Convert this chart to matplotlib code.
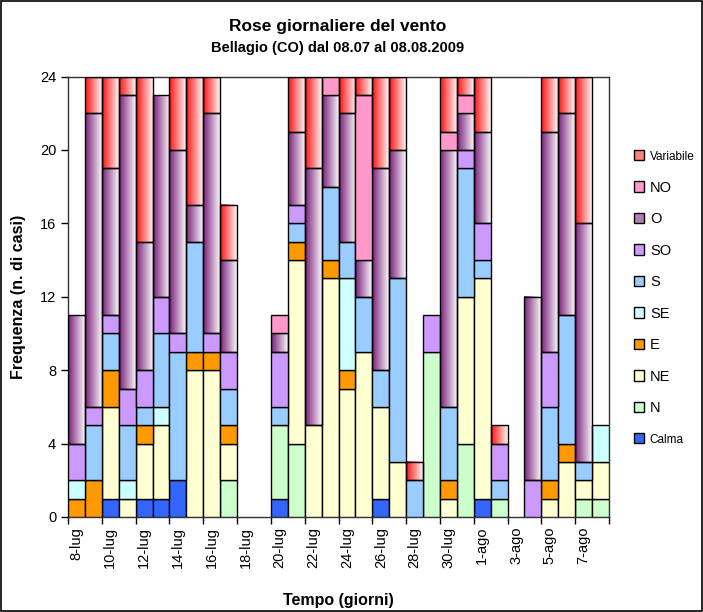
import numpy as np
import matplotlib
matplotlib.use("Agg")
import matplotlib.pyplot as plt
from matplotlib.patches import Patch, Rectangle
from matplotlib.colors import LinearSegmentedColormap

plt.rcParams["font.family"] = ["Liberation Sans", "DejaVu Sans"]

# giorni dal 08.07 al 08.08.2009
giorni = [f"{d}-lug" for d in range(8, 32)] + [f"{d}-ago" for d in range(1, 9)]

# casi per direzione (dal basso verso l'alto)
calma = [0, 0, 1, 0, 1, 1, 2, 0, 0, 0, 0, 0, 1, 0, 0, 0, 0, 0, 1, 0, 0, 0, 0, 0, 1, 0, 0, 0, 0, 0, 0, 0]
nord = [0, 0, 0, 0, 0, 0, 0, 0, 0, 2, 0, 0, 4, 4, 0, 0, 0, 0, 0, 0, 0, 9, 0, 4, 0, 1, 0, 0, 0, 0, 1, 1]
nord_est = [0, 0, 5, 1, 3, 4, 0, 8, 8, 2, 0, 0, 0, 10, 5, 13, 7, 9, 5, 3, 0, 0, 1, 8, 12, 0, 0, 0, 1, 3, 1, 2]
est = [1, 2, 2, 0, 1, 0, 0, 1, 1, 1, 0, 0, 0, 1, 0, 1, 1, 0, 0, 0, 0, 0, 1, 0, 0, 0, 0, 0, 1, 1, 0, 0]
sud_est = [1, 0, 0, 1, 0, 1, 0, 0, 0, 0, 0, 0, 0, 0, 0, 0, 5, 0, 0, 0, 0, 0, 0, 0, 0, 0, 0, 0, 0, 0, 0, 2]
sud = [0, 3, 2, 3, 1, 4, 7, 6, 0, 2, 0, 0, 1, 1, 0, 4, 2, 3, 2, 10, 2, 0, 4, 7, 1, 1, 0, 0, 4, 7, 1, 0]
sud_ovest = [2, 1, 1, 2, 2, 2, 1, 0, 1, 2, 0, 0, 3, 1, 0, 0, 0, 0, 0, 0, 0, 2, 0, 1, 2, 2, 0, 2, 3, 0, 0, 0]
ovest = [7, 16, 8, 16, 7, 11, 10, 2, 12, 5, 0, 0, 1, 4, 14, 5, 7, 2, 11, 7, 0, 0, 14, 2, 5, 0, 0, 10, 12, 11, 13, 0]
nord_ovest = [0, 0, 0, 0, 0, 0, 0, 0, 0, 0, 0, 0, 1, 0, 0, 1, 0, 9, 0, 0, 0, 0, 1, 1, 0, 0, 0, 0, 0, 0, 0, 0]
variabile = [0, 2, 5, 1, 9, 0, 4, 7, 2, 3, 0, 0, 0, 3, 5, 0, 2, 1, 5, 4, 1, 0, 3, 1, 3, 1, 0, 0, 3, 2, 8, 0]

serie = [
    ("Calma", calma, "#3366FF", None),
    ("N", nord, "#CCFFCC", None),
    ("NE", nord_est, "#FFFFD2", None),
    ("E", est, "#FF9900", None),
    ("SE", sud_est, "#CCFFFF", None),
    ("S", sud, "#99CCFF", None),
    ("SO", sud_ovest, "#CC99FF", None),
    ("O", ovest, "#B080B0", ("#7A1F7A", "#F8F4F8")),
    ("NO", nord_ovest, "#FF99CC", None),
    ("Variabile", variabile, "#FF8080", ("#FF1010", "#FFF4F4")),
]

fig = plt.figure(figsize=(7.03, 6.12), dpi=100)
ax = fig.add_axes([68 / 703, 95 / 612, 541 / 703, 440.5 / 612])

x = np.arange(len(giorni))
base = np.zeros(len(giorni))
handles = []
for nome, valori, colore, grad in serie:
    valori = np.array(valori, dtype=float)
    fc = colore if grad is None else "none"
    barre = ax.bar(x, valori, width=1.0, bottom=base, facecolor=fc,
                   edgecolor="black", linewidth=1.0, zorder=3)
    for b in barre:
        if b.get_height() == 0:
            b.set_visible(False)
        elif grad is not None:
            # riempimento sfumato orizzontale (colore -> bianco)
            cmap = LinearSegmentedColormap.from_list(nome, list(grad))
            x0, y0 = b.get_x(), b.get_y()
            ax.imshow(np.linspace(0, 1, 64).reshape(1, -1), cmap=cmap,
                      extent=[x0, x0 + b.get_width(), y0, y0 + b.get_height()],
                      aspect="auto", zorder=2, interpolation="bilinear")
    base += valori
    handles.append(Patch(facecolor=colore, edgecolor="black", linewidth=1.0, label=nome))

ax.set_xlim(-0.5, len(giorni) - 0.5)
ax.set_ylim(0, 24)
ax.set_yticks(range(0, 25, 4))
ax.set_xticks(np.arange(-0.5, len(giorni), 2))
ax.set_xticklabels([])
ax.set_xticks(x[::2], minor=True)
ax.set_xticklabels(giorni[::2], minor=True, rotation=90, fontsize=10.5)
ax.tick_params(axis="x", which="major", direction="out", length=5, width=1)
ax.tick_params(axis="x", which="minor", length=0, pad=7)
ax.tick_params(axis="y", direction="out", length=5, width=1, labelsize=10.5)
for s in ax.spines.values():
    s.set_linewidth(1.0)
    s.set_color("#333333")

ax.set_ylabel("Frequenza (n. di casi)", fontsize=11.5, fontweight="bold", labelpad=10)
fig.text(338 / 703, 1 - 600 / 612, "Tempo (giorni)", ha="center", va="center",
         fontsize=11.5, fontweight="bold")
fig.text(338 / 703, 1 - 27 / 612, "Rose giornaliere del vento", ha="center", va="center",
         fontsize=12.5, fontweight="bold")
fig.text(338 / 703, 1 - 48 / 612, "Bellagio (CO) dal 08.07 al 08.08.2009", ha="center",
         va="center", fontsize=10.5, fontweight="bold")

leg = fig.legend(handles[::-1], [h.get_label() for h in handles[::-1]],
                 loc="upper left", bbox_to_anchor=(628 / 703, 1 - 144 / 612),
                 frameon=False, fontsize=10.5, handlelength=0.7, handleheight=0.7,
                 handletextpad=0.4, labelspacing=1.2, borderaxespad=0)
for t in leg.get_texts():
    if t.get_text() in ("Variabile", "Calma"):
        t.set_fontsize(8.5)

# cornice esterna del grafico
fig.patches.append(Rectangle((0.002, 0.002), 0.996, 0.996, transform=fig.transFigure,
                             fill=False, edgecolor="black", linewidth=1.2))

fig.savefig("out.png", dpi=100)
